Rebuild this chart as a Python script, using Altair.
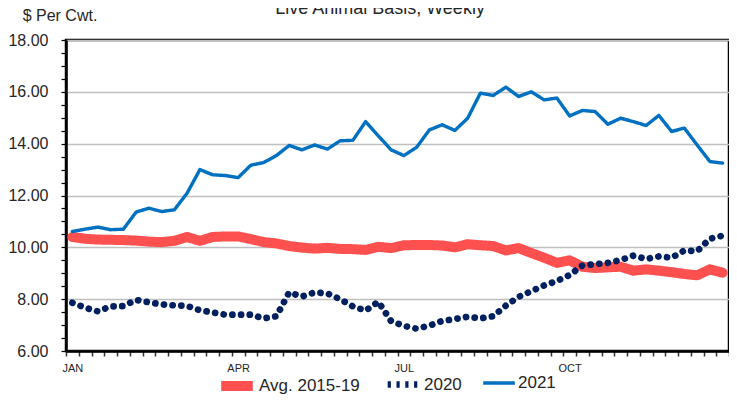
import altair as alt
import pandas as pd

# ---- data ----
weeks = list(range(1, 53))

avg_2015_19 = [10.40, 10.33, 10.30, 10.29, 10.28, 10.26, 10.22, 10.20, 10.25, 10.40,
               10.25, 10.40, 10.42, 10.42, 10.32, 10.20, 10.15, 10.05, 9.99, 9.95,
               9.98, 9.94, 9.93, 9.90, 10.02, 9.97, 10.08, 10.09, 10.09, 10.07,
               10.00, 10.12, 10.08, 10.05, 9.88, 9.97, 9.78, 9.60, 9.40, 9.50,
               9.25, 9.20, 9.23, 9.25, 9.10, 9.15, 9.10, 9.04, 8.97, 8.92,
               9.15, 9.02]

y2020 = [7.86, 7.67, 7.53, 7.72, 7.73, 7.97, 7.88, 7.80, 7.76, 7.74,
         7.57, 7.49, 7.40, 7.40, 7.40, 7.26, 7.34, 8.26, 8.10, 8.26,
         8.22, 8.00, 7.72, 7.56, 7.90, 7.15, 6.97, 6.86, 6.98, 7.16,
         7.23, 7.32, 7.26, 7.34, 7.75, 8.09, 8.31, 8.53, 8.70, 8.93,
         9.30, 9.35, 9.40, 9.51, 9.68, 9.55, 9.65, 9.60, 9.88, 9.85,
         10.33, 10.45]

y2021 = [10.61, 10.70, 10.78, 10.68, 10.70, 11.36, 11.51, 11.38, 11.45, 12.09,
         13.00, 12.80, 12.77, 12.69, 13.17, 13.27, 13.54, 13.93, 13.76, 13.95,
         13.79, 14.11, 14.13, 14.85, 14.30, 13.76, 13.54, 13.86, 14.53, 14.73,
         14.51, 14.98, 15.95, 15.86, 16.18, 15.82, 16.00, 15.69, 15.76, 15.07,
         15.28, 15.24, 14.75, 14.98, 14.85, 14.70, 15.09, 14.47, 14.60, 13.95,
         13.31, 13.25]

series_names = ["Avg. 2015-19", "2020", "2021"]
series_values = [avg_2015_19, y2020, y2021]

month_labels = ["JAN", "APR", "JUL", "OCT"]
month_weeks = [1, 14, 27, 40]

y_major_ticks = [6, 8, 10, 12, 14, 16, 18]

chart_title = "Live Animal Basis, Weekly"
y_title = "$ Per Cwt."

# ---- styling ----
series_colors = ["#FF5050", "#002060", "#0070C0"]
series_widths = [10, 3.4, 4]
legend_dash = [[1, 0], [3.2, 5.6], [1, 0]]
dotted_line_dash = [0.1, 8.6]

W, H = 663, 311
FONT = "Liberation Sans"
TXT = "#262626"

rows = []
for name, vals in zip(series_names, series_values):
    for w, v in zip(weeks, vals):
        rows.append({"week": w, "value": v, "series": name})
df = pd.DataFrame(rows)

week_bounds = [w - 0.5 for w in range(1, 54)]
label_expr = "".join(
    f"datum.value == {w - 0.5} ? '{m}' : " for m, w in zip(month_labels, month_weeks)
) + "''"

y_min, y_max = y_major_ticks[0], y_major_ticks[-1]
y_ticks = [y_min + 0.5 * i for i in range(int((y_max - y_min) / 0.5) + 1)]

legend = alt.Legend(
    orient="none", legendX=150, legendY=325, direction="horizontal", title=None,
    symbolType="stroke", symbolSize=1000, labelFontSize=17, labelOffset=1,
    columnPadding=14, padding=0, labelFont=FONT, labelColor=TXT, gridAlign="none",
)

x_enc = alt.X("week:Q", scale=alt.Scale(domain=[0.5, 52.5], nice=False, zero=False),
              axis=alt.Axis(values=week_bounds, labelExpr=label_expr, tickSize=5,
                            labelOffset=W / 52 / 2, labelFlush=False, labelOverlap=False,
                            labelBound=False, grid=False, labelFontSize=11,
                            labelPadding=6, title=None, labelAlign="center",
                            tickWidth=1.5, tickColor="#333333"))
y_enc = alt.Y("value:Q", scale=alt.Scale(domain=[y_min, y_max], nice=False, zero=False),
              axis=alt.Axis(values=y_ticks,
                            labelExpr="datum.value % 2 == 0 ? format(datum.value, '.2f') : ''",
                            gridOpacity={"condition": {"test": "datum.value % 2 == 0", "value": 1}, "value": 0},
                            gridColor="#BFBFBF", gridWidth=1.3,
                            tickSize=5, labelPadding=13, labelFontSize=16,
                            labelOverlap=False, title=None, tickWidth=1.2))
color_enc = alt.Color("series:N", scale=alt.Scale(domain=series_names, range=series_colors), legend=legend)
width_enc = alt.StrokeWidth("series:N", scale=alt.Scale(domain=series_names, range=series_widths), legend=legend)
dash_enc = alt.StrokeDash("series:N", scale=alt.Scale(domain=series_names, range=legend_dash), legend=legend)

layers = []
for name in series_names:
    src = alt.Chart(df).transform_filter(alt.datum.series == name)
    if name == "2020":
        layer = src.mark_line(strokeJoin="round", strokeCap="round", strokeDash=dotted_line_dash).encode(
            x=x_enc, y=y_enc, color=color_enc, strokeWidth=width_enc)
    else:
        layer = src.mark_line(strokeJoin="round", strokeCap="round").encode(
            x=x_enc, y=y_enc, color=color_enc, strokeWidth=width_enc, strokeDash=dash_enc)
    layers.append(layer)

title_layer = alt.Chart(pd.DataFrame({"t": [chart_title]})).mark_text(
    font=FONT, fontSize=18, color=TXT, align="center", baseline="alphabetic"
).encode(text="t:N", x=alt.value(314), y=alt.value(-26))

ytitle_layer = alt.Chart(pd.DataFrame({"t": [y_title]})).mark_text(
    font=FONT, fontSize=16, color=TXT, align="center", baseline="alphabetic"
).encode(text="t:N", x=alt.value(-6), y=alt.value(-19))

chart = alt.layer(*layers, title_layer, ytitle_layer).properties(
    width=W, height=H,
    padding={"left": 58, "top": 32, "right": 0, "bottom": 46},
    autosize=alt.AutoSizeParams(type="none"),
).configure_view(stroke="black", strokeWidth=2.5).configure_axis(
    labelFont=FONT, labelColor=TXT, domainColor="black", domainWidth=2.5, tickColor="black"
)

chart.save("out.html", embed_options={"renderer": "svg", "actions": False})
